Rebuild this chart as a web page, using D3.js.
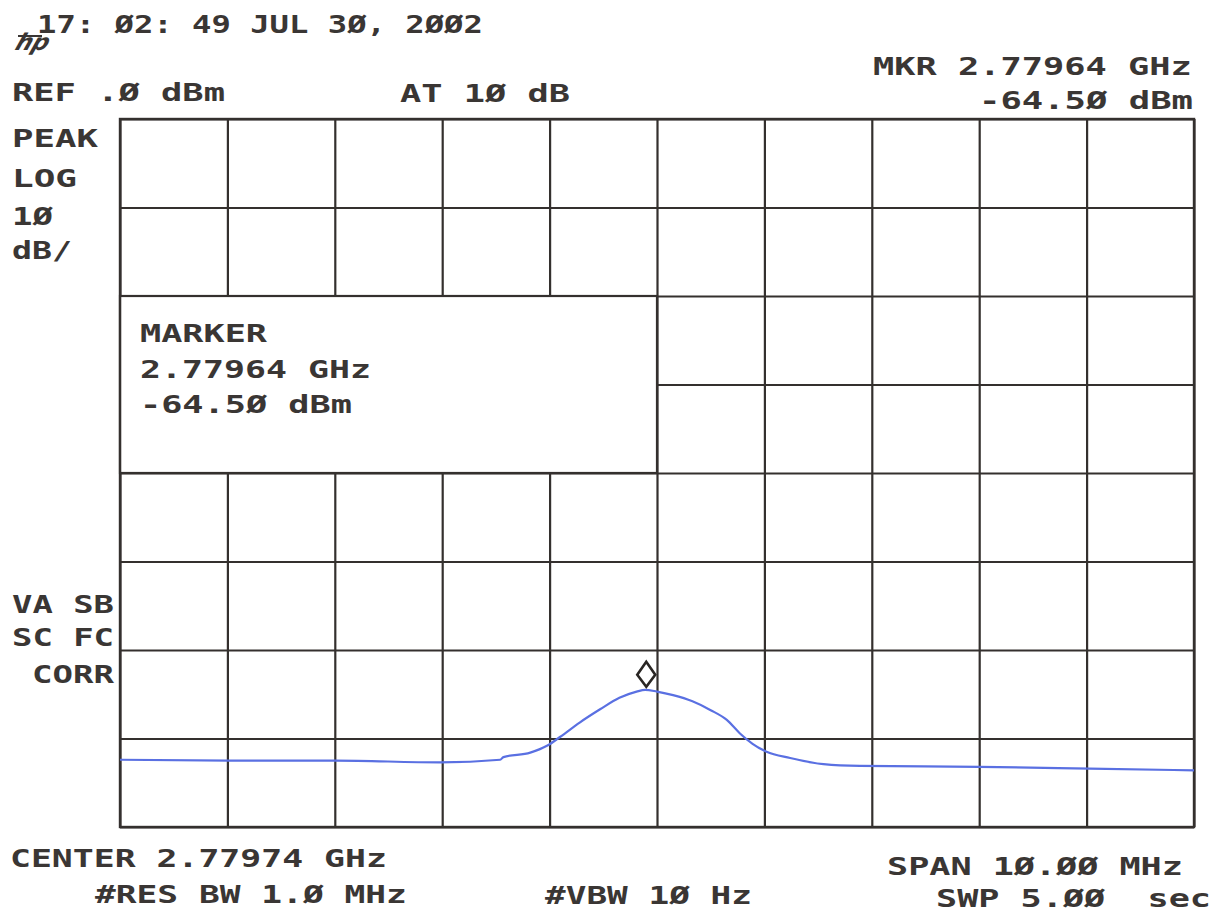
<!DOCTYPE html>
<html>
<head>
<meta charset="utf-8">
<script src="https://cdn.jsdelivr.net/npm/d3@7"></script>
<style>
  html, body { margin: 0; padding: 0; background: #ffffff; }
  svg { display: block; }
  text.lbl { font-family: "DejaVu Sans Mono", monospace; font-weight: bold; fill: #3a3634; }
</style>
</head>
<body>
<svg id="chart" width="1220" height="915"></svg>
<script>
// ---- data ----
const centerGHz = 2.77974;
const spanMHz = 10;
const refDbm = 0;
const dbPerDiv = 10;
const xTickOffsetsMHz = [-5, -4, -3, -2, -1, 0, 1, 2, 3, 4, 5];
const yTicksDbm = [0, -10, -20, -30, -40, -50, -60, -70, -80];
// trace: offset from center (MHz) and level (dBm)
const traceOffsetMHz = [-5.00, -3.98, -2.99, -2.02, -1.46, -1.43, -1.18, -1.02, -0.90, -0.72, -0.53, -0.35, -0.19, -0.11, 0.00, 0.15, 0.33, 0.50, 0.65, 0.77, 0.89, 1.02, 1.24, 1.55, 1.89, 3.00, 4.03, 5.00];
const traceDbm      = [-72.4, -72.5, -72.5, -72.7, -72.4, -72.1, -71.6, -70.8, -69.8, -68.2, -66.7, -65.4, -64.7, -64.5, -64.7, -65.1, -65.8, -66.8, -67.9, -69.4, -70.6, -71.5, -72.2, -72.9, -73.1, -73.2, -73.4, -73.6];
const markerGHz = 2.77964;
const markerDbm = -64.50;

// ---- layout ----
const L = 120, R = 1194, T = 119, B = 827;
const svg = d3.select("#chart");

const x = d3.scaleLinear().domain([-spanMHz / 2, spanMHz / 2]).range([L, R]);
const y = d3.scaleLinear().domain([refDbm - 8 * dbPerDiv, refDbm]).range([B, T]);

const gridColor = "#34302e";

// grid via axes
const gx = svg.append("g").attr("transform", `translate(0,${B})`)
  .call(d3.axisBottom(x).tickValues(xTickOffsetsMHz).tickSize(-(B - T)).tickFormat(""));
const gy = svg.append("g").attr("transform", `translate(${L},0)`)
  .call(d3.axisLeft(y).tickValues(yTicksDbm).tickSize(-(R - L)).tickFormat(""));
[gx, gy].forEach(g => {
  g.select(".domain").remove();
  g.selectAll(".tick line").attr("stroke", gridColor).attr("stroke-width", 2.2);
});

// marker info box (covers grid)
svg.append("rect")
  .attr("x", x(-5)).attr("y", y(-20))
  .attr("width", x(0) - x(-5)).attr("height", y(-40) - y(-20))
  .attr("fill", "#ffffff").attr("stroke", gridColor).attr("stroke-width", 2.2);

// outer frame
svg.append("rect").attr("x", L).attr("y", T).attr("width", R - L).attr("height", B - T)
  .attr("fill", "none").attr("stroke", gridColor).attr("stroke-width", 2.4);

// trace
const pts = traceOffsetMHz.map((f, i) => [f, traceDbm[i]]);
svg.append("path")
  .datum(pts)
  .attr("fill", "none")
  .attr("stroke", "#5a70e2")
  .attr("stroke-width", 2.2)
  .attr("d", d3.line().x(d => x(d[0])).y(d => y(d[1])).curve(d3.curveMonotoneX));

// marker diamond
const mx = x((markerGHz - centerGHz) * 1000);
const my = y(markerDbm);
svg.append("path")
  .attr("d", `M${mx},${my - 3} L${mx - 9},${my - 15} L${mx},${my - 28} L${mx + 9},${my - 15} Z`)
  .attr("fill", "none").attr("stroke", "#2a2624").attr("stroke-width", 2.6);

// ---- text (fitted horizontally to the plotter font's width) ----
function txt(s, xx, yy, w, size) {
  const t = svg.append("text").attr("class", "lbl").attr("x", 0).attr("y", 0)
    .attr("font-size", size || 25).attr("xml:space", "preserve").text(s);
  const w0 = t.node().getComputedTextLength();
  const sx = w / w0;
  t.attr("transform", `translate(${xx},${yy}) scale(${sx},1)`);
  return t;
}
txt("17: Ø2: 49 JUL 3Ø, 2ØØ2", 37, 33, 446, 24);
// hp logo
svg.append("text").attr("x", 0).attr("y", 0).attr("font-size", 23)
  .attr("font-style", "italic").attr("font-weight", "bold").attr("font-family", "DejaVu Sans")
  .attr("fill", "#3a3634")
  .attr("transform", "translate(14,50) skewX(-20)").text("hp");
svg.append("line").attr("x1", 18).attr("y1", 36).attr("x2", 42).attr("y2", 36)
  .attr("stroke", "#3a3634").attr("stroke-width", 2);

txt("REF .Ø dBm", 12, 101, 213);
txt("AT 1Ø dB", 400, 102, 170);
txt("MKR 2.77964 GHz", 873, 75, 319);
txt("-64.5Ø dBm", 979, 109, 214);
txt("PEAK", 12, 147, 86);
txt("LOG", 12, 187, 65);
txt("1Ø", 12, 225, 41);
txt("dB/", 12, 259, 60);

txt("MARKER", 140, 342, 127);
txt("2.77964 GHz", 140, 378, 231);
txt("-64.5Ø dBm", 140, 413, 212);

txt("VA SB", 12, 613, 102);
txt("SC FC", 12, 646, 102);
txt("CORR", 32, 683, 82);

txt("CENTER 2.77974 GHz", 10, 867, 377);
txt("#RES BW 1.Ø MHz", 95, 903, 312);
txt("#VBW 1Ø Hz", 545, 904, 207);
txt("SPAN 1Ø.ØØ MHz", 887, 875, 296);
txt("SWP 5.ØØ  sec", 936, 907, 275);
</script>
</body>
</html>
